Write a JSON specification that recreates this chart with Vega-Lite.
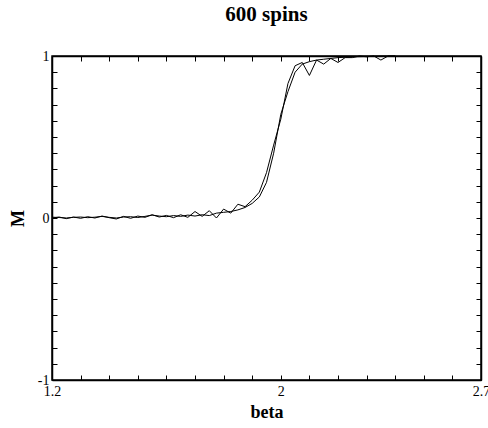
{
 "$schema": "https://vega.github.io/schema/vega-lite/v6.json",
 "width": 429, "height": 324,
 "autosize": {"type": "none"},
 "padding": {"left": 52, "top": 56, "right": 7, "bottom": 48},
 "background": "white",
 "title": {"text": "600 spins", "font": "Liberation Serif", "fontSize": 21, "fontWeight": "bold", "color": "black", "offset": 24, "anchor": "middle"},
 "config": {
  "view": {"stroke": "black", "strokeWidth": 1.5},
  "axis": {"grid": false, "domainColor": "black", "domainWidth": 1.5, "tickColor": "black", "tickWidth": 1, "tickSize": -5, "labelFont": "Liberation Serif", "labelFontSize": 14, "labelColor": "black", "titleFont": "Liberation Serif", "titleFontSize": 18, "titleFontWeight": "bold", "titleColor": "black"}
 },
 "data": {"values": [
  {"series":"A","beta":1.200,"M":0.005},{"series":"A","beta":1.225,"M":0.003},{"series":"A","beta":1.250,"M":0.000},{"series":"A","beta":1.275,"M":0.004},{"series":"A","beta":1.300,"M":0.006},{"series":"A","beta":1.325,"M":0.002},{"series":"A","beta":1.350,"M":0.005},{"series":"A","beta":1.375,"M":0.010},{"series":"A","beta":1.400,"M":0.004},{"series":"A","beta":1.425,"M":0.000},{"series":"A","beta":1.450,"M":0.006},{"series":"A","beta":1.475,"M":0.008},{"series":"A","beta":1.500,"M":0.003},{"series":"A","beta":1.525,"M":0.010},{"series":"A","beta":1.550,"M":0.018},{"series":"A","beta":1.575,"M":0.012},{"series":"A","beta":1.600,"M":0.008},{"series":"A","beta":1.625,"M":0.015},{"series":"A","beta":1.650,"M":0.010},{"series":"A","beta":1.675,"M":0.018},{"series":"A","beta":1.700,"M":0.012},{"series":"A","beta":1.725,"M":0.020},{"series":"A","beta":1.750,"M":0.015},{"series":"A","beta":1.775,"M":0.030},{"series":"A","beta":1.800,"M":0.035},{"series":"A","beta":1.825,"M":0.040},{"series":"A","beta":1.850,"M":0.050},{"series":"A","beta":1.875,"M":0.065},{"series":"A","beta":1.900,"M":0.090},{"series":"A","beta":1.925,"M":0.130},{"series":"A","beta":1.950,"M":0.220},{"series":"A","beta":1.975,"M":0.400},{"series":"A","beta":2.000,"M":0.640},{"series":"A","beta":2.025,"M":0.780},{"series":"A","beta":2.050,"M":0.900},{"series":"A","beta":2.075,"M":0.950},{"series":"A","beta":2.100,"M":0.965},{"series":"A","beta":2.125,"M":0.975},{"series":"A","beta":2.150,"M":0.980},{"series":"A","beta":2.175,"M":0.985},{"series":"A","beta":2.200,"M":0.990},{"series":"A","beta":2.225,"M":0.992},{"series":"A","beta":2.250,"M":0.995},{"series":"A","beta":2.275,"M":0.996},{"series":"A","beta":2.300,"M":0.997},{"series":"A","beta":2.325,"M":0.998},{"series":"A","beta":2.350,"M":0.999},{"series":"A","beta":2.375,"M":0.999},{"series":"A","beta":2.400,"M":1.000},
  {"series":"B","beta":1.200,"M":0.000},{"series":"B","beta":1.225,"M":0.006},{"series":"B","beta":1.250,"M":-0.004},{"series":"B","beta":1.275,"M":0.006},{"series":"B","beta":1.300,"M":-0.002},{"series":"B","beta":1.325,"M":0.008},{"series":"B","beta":1.350,"M":0.000},{"series":"B","beta":1.375,"M":0.012},{"series":"B","beta":1.400,"M":0.002},{"series":"B","beta":1.425,"M":-0.006},{"series":"B","beta":1.450,"M":0.010},{"series":"B","beta":1.475,"M":-0.002},{"series":"B","beta":1.500,"M":0.012},{"series":"B","beta":1.525,"M":0.004},{"series":"B","beta":1.550,"M":0.020},{"series":"B","beta":1.575,"M":0.006},{"series":"B","beta":1.600,"M":0.016},{"series":"B","beta":1.625,"M":0.002},{"series":"B","beta":1.650,"M":0.020},{"series":"B","beta":1.675,"M":0.004},{"series":"B","beta":1.700,"M":0.040},{"series":"B","beta":1.725,"M":0.010},{"series":"B","beta":1.750,"M":0.045},{"series":"B","beta":1.775,"M":0.000},{"series":"B","beta":1.800,"M":0.055},{"series":"B","beta":1.825,"M":0.030},{"series":"B","beta":1.850,"M":0.085},{"series":"B","beta":1.875,"M":0.070},{"series":"B","beta":1.900,"M":0.110},{"series":"B","beta":1.925,"M":0.160},{"series":"B","beta":1.950,"M":0.280},{"series":"B","beta":1.975,"M":0.450},{"series":"B","beta":2.000,"M":0.610},{"series":"B","beta":2.025,"M":0.830},{"series":"B","beta":2.050,"M":0.940},{"series":"B","beta":2.075,"M":0.960},{"series":"B","beta":2.100,"M":0.880},{"series":"B","beta":2.125,"M":0.975},{"series":"B","beta":2.150,"M":0.950},{"series":"B","beta":2.175,"M":0.985},{"series":"B","beta":2.200,"M":0.960},{"series":"B","beta":2.225,"M":0.990},{"series":"B","beta":2.250,"M":0.990},{"series":"B","beta":2.275,"M":1.000},{"series":"B","beta":2.300,"M":0.995},{"series":"B","beta":2.325,"M":1.000},{"series":"B","beta":2.350,"M":0.975},{"series":"B","beta":2.375,"M":1.000},{"series":"B","beta":2.400,"M":1.000}
 ]},
 "layer": [
  {
   "mark": {"type": "line", "color": "black", "strokeWidth": 1},
   "encoding": {
    "x": {"field": "beta", "type": "quantitative", "scale": {"domain": [1.2, 2.7], "nice": false, "zero": false},
          "axis": {"orient": "bottom", "title": "beta", "values": [1.2,1.3,1.4,1.5,1.6,1.7,1.8,1.9,2,2.1,2.2,2.3,2.4,2.5,2.6,2.7],
                   "labelExpr": "abs(datum.value-1.2)<0.001 ? '1.2' : abs(datum.value-2)<0.001 ? '2' : abs(datum.value-2.7)<0.001 ? '2.7' : ''",
                   "labelPadding": 9, "labelFlush": false, "labelOverlap": false, "titlePadding": 5}},
    "y": {"field": "M", "type": "quantitative", "scale": {"domain": [-1, 1], "nice": false, "zero": false},
          "axis": {"orient": "left", "title": "M", "values": [-1,-0.9,-0.8,-0.7,-0.6,-0.5,-0.4,-0.3,-0.2,-0.1,0,0.1,0.2,0.3,0.4,0.5,0.6,0.7,0.8,0.9,1],
                   "labelExpr": "datum.value==1 ? '1' : datum.value==0 ? '0' : datum.value==-1 ? '-1' : ''",
                   "labelPadding": 8, "labelFlush": false, "labelOverlap": false, "titlePadding": 10}},
    "detail": {"field": "series"}
   }
  },
  {
   "mark": {"type": "line", "strokeOpacity": 0},
   "encoding": {
    "x": {"field": "beta", "type": "quantitative", "scale": {"domain": [1.2, 2.7], "nice": false, "zero": false},
          "axis": {"orient": "top", "title": null, "labels": false, "values": [1.2,1.3,1.4,1.5,1.6,1.7,1.8,1.9,2,2.1,2.2,2.3,2.4,2.5,2.6,2.7]}},
    "y": {"field": "M", "type": "quantitative", "scale": {"domain": [-1, 1], "nice": false, "zero": false},
          "axis": {"orient": "right", "title": null, "labels": false, "values": [-1,-0.9,-0.8,-0.7,-0.6,-0.5,-0.4,-0.3,-0.2,-0.1,0,0.1,0.2,0.3,0.4,0.5,0.6,0.7,0.8,0.9,1]}},
    "detail": {"field": "series"}
   }
  }
 ],
 "resolve": {"scale": {"x": "independent", "y": "independent"}, "axis": {"x": "independent", "y": "independent"}}
}
